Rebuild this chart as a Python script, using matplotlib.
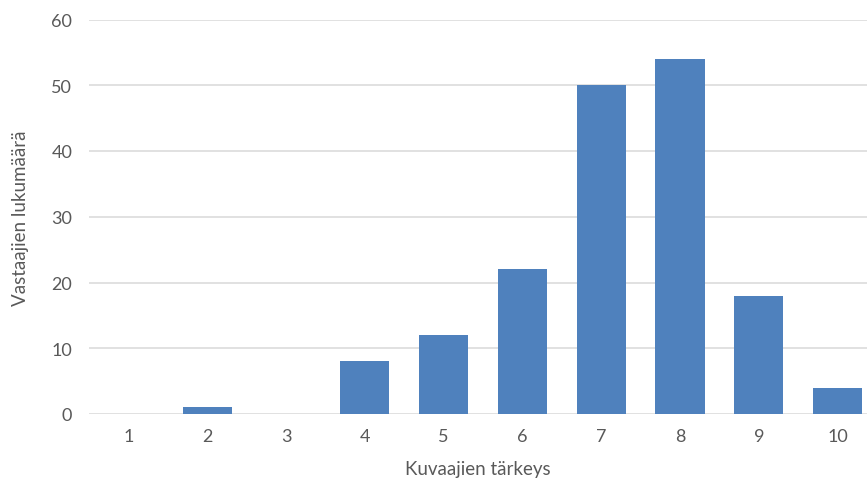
import matplotlib
matplotlib.use("Agg")
import matplotlib.pyplot as plt

categories = ["1", "2", "3", "4", "5", "6", "7", "8", "9", "10"]
counts = [0, 1, 0, 8, 12, 22, 50, 54, 18, 4]
y_ticks = [0, 10, 20, 30, 40, 50, 60]

plt.rcParams["font.family"] = ["Lato", "DejaVu Sans"]
text_color = "#595959"

W, H = 867, 485
fig = plt.figure(figsize=(W / 100, H / 100), dpi=100)
left, right = 89, 877
top, bottom = 20.5, 415
ax = fig.add_axes([left / W, 1 - bottom / H, (right - left) / W, (bottom - top) / H])

x = list(range(len(categories)))
ax.bar(x, counts, width=0.625, color="#4f81bd", zorder=3)

ax.set_xlim(-0.5, len(categories) - 0.5)
ax.set_ylim(0, 60)
ax.set_yticks(y_ticks)
ax.set_xticks(x)
ax.set_xticklabels(categories)
ax.yaxis.grid(True, color="#d9d9d9", linewidth=1.1, zorder=0)
for s in ax.spines.values():
    s.set_visible(False)
ax.tick_params(axis="both", length=0, labelsize=13, colors=text_color)
ax.tick_params(axis="y", pad=12)
ax.tick_params(axis="x", pad=10)

ax.set_xlabel("Kuvaajien tärkeys", fontsize=13.5, color=text_color)
ax.set_ylabel("Vastaajien lukumäärä", fontsize=13.5, color=text_color)
ax.xaxis.set_label_coords((478 - left) / (right - left), -(461 - bottom) / (bottom - top))
ax.yaxis.set_label_coords((29 - left) / (right - left), (bottom - 218) / (bottom - top))

fig.savefig("out.png", dpi=100)
